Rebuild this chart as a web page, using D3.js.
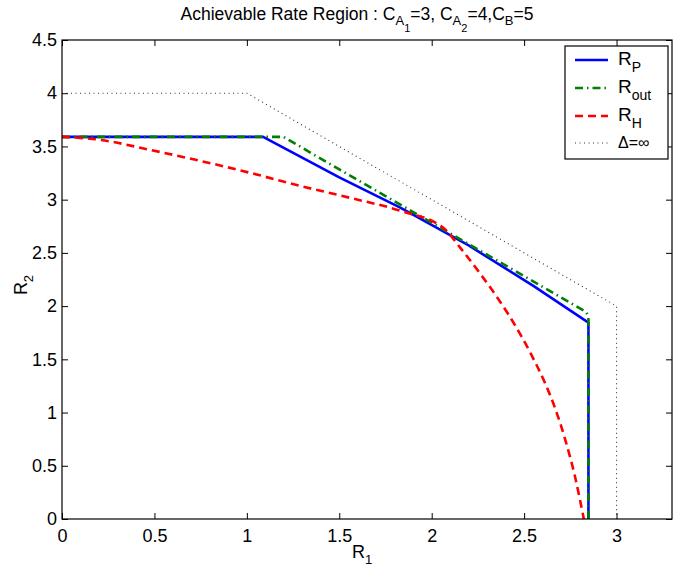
<!DOCTYPE html>
<html>
<head>
<meta charset="utf-8">
<script src="https://cdn.jsdelivr.net/npm/d3@7"></script>
<style>
  html, body { margin: 0; padding: 0; background: #fff; }
  svg { display: block; font-family: "Liberation Sans", Arial, Helvetica, sans-serif; }
</style>
</head>
<body>
<svg id="chart" width="692" height="571"></svg>
<script>
// ---- data ----
const xTickValues = [0, 0.5, 1, 1.5, 2, 2.5, 3];
const xTickLabels = ["0", "0.5", "1", "1.5", "2", "2.5", "3"];
const yTickValues = [0, 0.5, 1, 1.5, 2, 2.5, 3, 3.5, 4, 4.5];
const yTickLabels = ["0", "0.5", "1", "1.5", "2", "2.5", "3", "3.5", "4", "4.5"];

const rP_R1 = [0, 1.088, 1.5, 1.83, 2.2, 2.55, 2.848, 2.848];
const rP_R2 = [3.59, 3.59, 3.21, 2.925, 2.57, 2.19, 1.845, 0];

const rOut_R1 = [0, 1.197, 2.835, 2.844, 2.848, 2.848];
const rOut_R2 = [3.59, 3.59, 1.945, 1.915, 1.875, 0];

const rH_R1 = [0, 0.206, 0.476, 0.747, 1.018, 1.289, 1.559, 1.830, 2.063, 2.155, 2.263, 2.371, 2.453, 2.534, 2.615, 2.669, 2.723, 2.777, 2.823];
const rH_R2 = [3.59, 3.562, 3.468, 3.365, 3.252, 3.129, 3.017, 2.895, 2.735, 2.547, 2.303, 2.039, 1.814, 1.560, 1.269, 1.034, 0.742, 0.385, 0];

const inf_R1 = [0, 1, 3, 3];
const inf_R2 = [4, 4, 2, 0];

const seriesNames = ["P", "out", "H", "Δ=∞"];

// ---- layout ----
const svg = d3.select("#chart");
const L = 62, R = 672, T = 40, B = 519;
const x = d3.scaleLinear().domain([0, 3.3]).range([L, R]);
const y = d3.scaleLinear().domain([0, 4.5]).range([B, T]);

const styles = [
  { color: "#0000ff", width: 2.6, dash: null },
  { color: "#008000", width: 2.6, dash: "8,4,1.5,4" },
  { color: "#ff0000", width: 2.6, dash: "8,5" },
  { color: "#333333", width: 1.1, dash: "1,3.5" }
];
const series = [
  d3.zip(rP_R1, rP_R2),
  d3.zip(rOut_R1, rOut_R2),
  d3.zip(rH_R1, rH_R2),
  d3.zip(inf_R1, inf_R2)
];

// plot lines
const line = d3.line().x(d => x(d[0])).y(d => y(d[1]));
const smooth = d3.line().x(d => x(d[0])).y(d => y(d[1])).curve(d3.curveMonotoneX);
const plot = svg.append("g");
series.forEach((s, i) => {
  plot.append("path")
    .attr("d", i === 2 ? smooth(s) : line(s))
    .attr("fill", "none")
    .attr("stroke", styles[i].color)
    .attr("stroke-width", styles[i].width)
    .attr("stroke-dasharray", styles[i].dash)
    .attr("stroke-linejoin", "round");
});

// axes (MATLAB style box with inward ticks on all sides)
const tickLen = 6;
const fontSize = 18;
const xAxis = d3.axisBottom(x).tickValues(xTickValues).tickFormat((d, i) => xTickLabels[i]).tickSizeInner(-tickLen).tickSizeOuter(0).tickPadding(10);
const yAxis = d3.axisLeft(y).tickValues(yTickValues).tickFormat((d, i) => yTickLabels[i]).tickSizeInner(-tickLen).tickSizeOuter(0).tickPadding(5);
const xAxisTop = d3.axisTop(x).tickValues(xTickValues).tickFormat("").tickSizeInner(-tickLen).tickSizeOuter(0);
const yAxisRight = d3.axisRight(y).tickValues(yTickValues).tickFormat("").tickSizeInner(-tickLen).tickSizeOuter(0);

function styleAxis(g) {
  g.selectAll("path.domain").remove();
  g.selectAll("line").attr("stroke", "#000").attr("stroke-width", 1);
  g.selectAll("text").attr("fill", "#000").attr("font-size", fontSize).attr("font-family", "Liberation Sans, Arial, sans-serif");
}
svg.append("g").attr("transform", `translate(0,${B})`).call(xAxis).call(styleAxis);
svg.append("g").attr("transform", `translate(${L},0)`).call(yAxis).call(styleAxis);
svg.append("g").attr("transform", `translate(0,${T})`).call(xAxisTop).call(styleAxis);
svg.append("g").attr("transform", `translate(${R},0)`).call(yAxisRight).call(styleAxis);

svg.append("rect").attr("x", L).attr("y", T).attr("width", R - L).attr("height", B - T)
  .attr("fill", "none").attr("stroke", "#000").attr("stroke-width", 1.2);

// title
const title = svg.append("text").attr("x", 357).attr("y", 20).attr("text-anchor", "middle")
  .attr("font-size", 17.5).attr("fill", "#000");
title.append("tspan").text("Achievable Rate Region : C");
title.append("tspan").attr("font-size", 13).attr("dy", 5).text("A");
title.append("tspan").attr("font-size", 11).attr("dy", 7).text("1");
title.append("tspan").attr("dy", -12).text("=3, C");
title.append("tspan").attr("font-size", 13).attr("dy", 5).text("A");
title.append("tspan").attr("font-size", 11).attr("dy", 7).text("2");
title.append("tspan").attr("dy", -12).text("=4,C");
title.append("tspan").attr("font-size", 13).attr("dy", 5).text("B");
title.append("tspan").attr("dy", -5).text("=5");

// axis labels
const xl = svg.append("text").attr("x", 362).attr("y", 558).attr("text-anchor", "middle").attr("font-size", 18).attr("fill", "#000");
xl.append("tspan").text("R");
xl.append("tspan").attr("font-size", 13).attr("dy", 6).text("1");

const yl = svg.append("text").attr("transform", "translate(27,285) rotate(-90)").attr("text-anchor", "middle").attr("font-size", 18).attr("fill", "#000");
yl.append("tspan").text("R");
yl.append("tspan").attr("font-size", 13).attr("dy", 6).text("2");

// legend
const lg = svg.append("g");
lg.append("rect").attr("x", 565).attr("y", 46).attr("width", 103).attr("height", 113)
  .attr("fill", "#fff").attr("stroke", "#000").attr("stroke-width", 1.2);
const rowY = [60, 88, 116, 143];
seriesNames.forEach((name, i) => {
  lg.append("line").attr("x1", 575).attr("x2", 608).attr("y1", rowY[i]).attr("y2", rowY[i])
    .attr("stroke", styles[i].color).attr("stroke-width", styles[i].width)
    .attr("stroke-dasharray", styles[i].dash);
  if (i < 3) {
    const t = lg.append("text").attr("x", 618).attr("y", rowY[i] + 5).attr("font-size", 19).attr("fill", "#000");
    t.append("tspan").text("R");
    t.append("tspan").attr("font-size", 14).attr("dy", 7).text(name);
  } else {
    lg.append("text").attr("x", 618).attr("y", rowY[i] + 5).attr("font-size", 16).attr("fill", "#000").text(name);
  }
});
</script>
</body>
</html>
